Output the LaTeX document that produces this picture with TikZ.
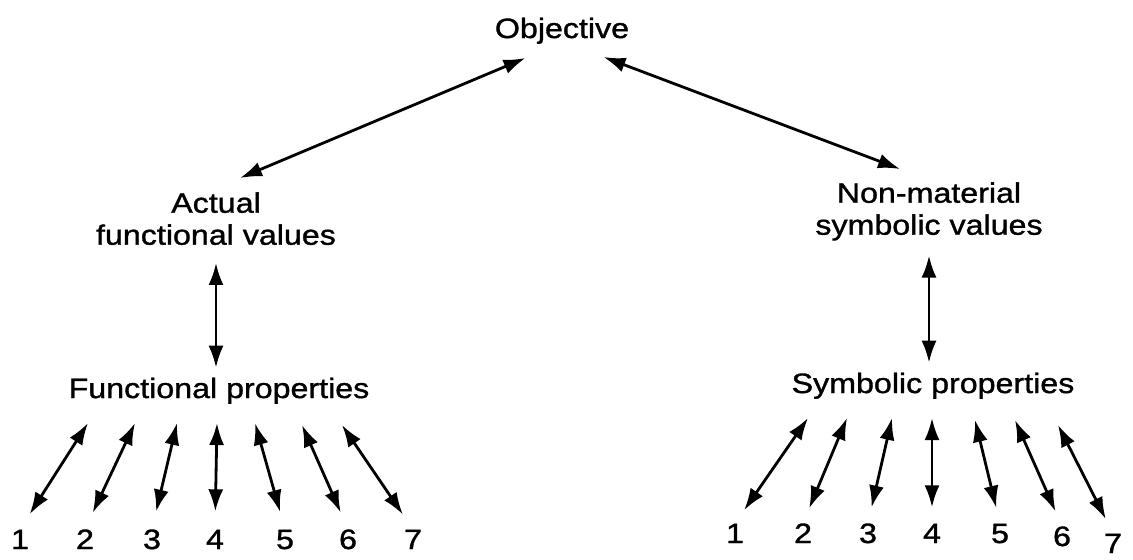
\documentclass[tikz,border=0pt]{standalone}
\usepackage{fontspec}
\setmainfont{Liberation Sans}[FakeStretch=1.15, FakeBold=1.2]
\usetikzlibrary{arrows.meta,calc}

\begin{document}
\begin{tikzpicture}[x=0.5pt,y=-0.5pt]

	\tikzset{every node/.style = {font=\fontsize{14}{16}\selectfont, inner sep=0pt}}
	\tikzset{label/.style = {anchor=base}}
	\tikzset{twoline/.style = {anchor=north, align=center}}
	\tikzset{link/.style = {draw, line width=1.4pt, {Latex[length=11pt,width=7.5pt]}-{Latex[length=11pt,width=7.5pt]}}}

	\useasboundingbox (0,0) rectangle (1133,559);

	\node[label] (obj) at (562,38) {Objective};
	\node[twoline] (act) at (216,192) {Actual\\functional values};
	\node[twoline] (sym) at (929,182) {Non-material\\symbolic values};
	\node[label] (fp) at (219,398) {Functional properties};
	\node[label] (sp) at (933,393) {Symbolic properties};

	% numbered properties
	\foreach \n/\x in {1/20, 2/85, 3/152, 4/215, 5/285, 6/348, 7/413}
		\node[label] (f\n) at (\x,549) {\n};
	\foreach \n/\x/\y in {1/735/543, 2/803/543, 3/868/543, 4/932/543, 5/1000/543, 6/1062/546, 7/1113/553}
		\node[label] (s\n) at (\x,\y) {\n};

	\draw[link] ($(obj.base west)+(31,20)$) -- ($(act.north)+(24,-14)$);
	\draw[link] ($(obj.base east)+(-26,19)$) -- ($(sym.north)+(-29,-13)$);
	\draw[link, shorten <=8.8pt, shorten >=4.8pt] (act.south) -- (act.south |- fp.north);
	\draw[link, shorten <=7.3pt, shorten >=4.8pt] (sym.south) -- (sym.south |- sp.north);

	\foreach \n/\dx/\dy in {1/-131/25, 2/-84/25, 3/-42/25, 4/-2/25, 5/36/25, 6/83/27, 7/123/27}
		\draw[link, shorten >=9pt] ($(fp.base)+(\dx,\dy)$) -- (f\n.north);
	\foreach \n/\dx/\dy in {1/-125/25, 2/-86/25, 3/-41/25, 4/-1/25, 5/42/27, 6/82/27, 7/125/32}
		\draw[link, shorten >=8pt] ($(sp.base)+(\dx,\dy)$) -- (s\n.north);

\end{tikzpicture}
\end{document}
